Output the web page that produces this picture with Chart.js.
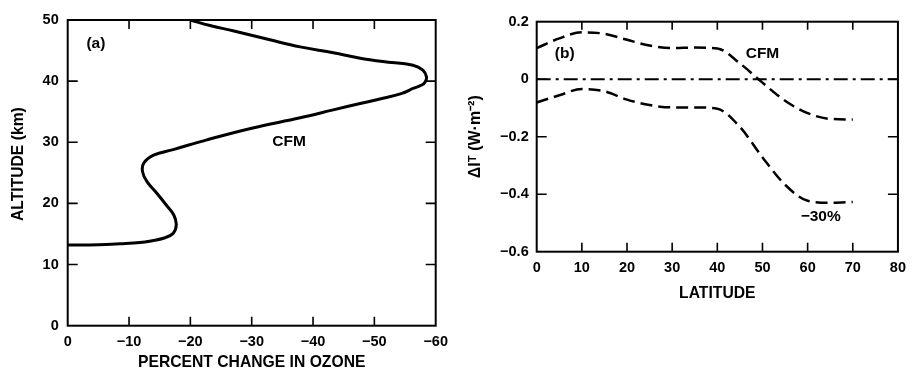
<!DOCTYPE html>
<html><head><meta charset="utf-8">
<script src="https://cdn.jsdelivr.net/npm/chart.js@4"></script>
<style>
html,body{margin:0;padding:0;background:#fff;overflow:hidden;width:914px;height:374px}
#a{position:absolute;left:0;top:0;width:460px;height:374px}
#b{position:absolute;left:460px;top:0;width:454px;height:374px}
</style></head><body>
<div id="a"><canvas id="ca"></canvas></div>
<div id="b"><canvas id="cb"></canvas></div>
<script>
// Panel (a): ozone change profile
const ozonePct = [0, -5, -8.5, -11.8, -14.0, -15.6, -17.2, -17.7, -17.3, -16.1, -14.5, -12.9, -12.2, -12.4, -14.0, -17.2, -22.7, -30.0, -37.9, -43.3, -47.5, -51.4, -54.5, -56.3, -57.8, -58.3, -58.5, -57.9, -56.3, -51.4, -47.5, -43.3, -37.9, -32.8, -27.1, -23.2, -20.0];
const altitude = [13.2, 13.25, 13.4, 13.6, 13.95, 14.3, 15.1, 16.5, 18.1, 19.7, 21.7, 23.6, 25.2, 26.6, 27.9, 28.8, 30.4, 32.3, 34.0, 35.3, 36.3, 37.2, 38.0, 38.8, 39.4, 39.9, 40.7, 41.8, 42.6, 43.2, 43.8, 44.65, 45.6, 46.8, 48.2, 49.1, 50.0];
const ozoneTicks = [0, -10, -20, -30, -40, -50, -60];
const altitudeTicks = [0, 10, 20, 30, 40, 50];

// Panel (b): flux change vs latitude
const latitude = [0, 5, 10, 15, 20, 25, 30, 35, 40, 45, 50, 55, 60, 65, 70];
const cfmFlux = [0.108, 0.142, 0.163, 0.158, 0.137, 0.117, 0.108, 0.110, 0.107, 0.055, -0.012, -0.075, -0.118, -0.138, -0.140];
const minus30Flux = [-0.081, -0.056, -0.034, -0.042, -0.071, -0.090, -0.098, -0.098, -0.103, -0.166, -0.272, -0.367, -0.423, -0.430, -0.427];
const zeroLat = [0, 80];
const zeroFlux = [0, 0];
const latitudeTicks = [0, 10, 20, 30, 40, 50, 60, 70, 80];
const fluxTicks = [0.2, 0, -0.2, -0.4, -0.6];

const FONT = "'Liberation Sans', Arial, sans-serif";
Chart.defaults.font.family = FONT;
Chart.defaults.color = '#000';

function fmt(v, dec) {
  const s = Math.abs(v).toFixed(dec);
  return (v < 0 ? '\u2212' : '') + s;
}

function pts(xs, ys) { return xs.map((x, i) => ({x: x, y: ys[i]})); }

const framePlugin = {
  id: 'frame',
  afterDatasetsDraw(chart, args, opts) {
    const {ctx, chartArea: a, scales} = chart;
    ctx.save();
    ctx.strokeStyle = '#000';
    ctx.lineWidth = 2;
    ctx.strokeRect(a.left, a.top, a.right - a.left, a.bottom - a.top);
    ctx.lineWidth = 1.6;
    const xs = opts.xTicks, ys = opts.yTicks;
    ctx.beginPath();
    xs.forEach(v => {
      const p = scales.x.getPixelForValue(v);
      if (Math.abs(p - a.left) < 2 || Math.abs(p - a.right) < 2) return;
      ctx.moveTo(p, a.top); ctx.lineTo(p, a.top + opts.lenTop);
      ctx.moveTo(p, a.bottom); ctx.lineTo(p, a.bottom - opts.lenBottom);
    });
    ys.forEach(v => {
      const p = scales.y.getPixelForValue(v);
      if (Math.abs(p - a.top) < 2 || Math.abs(p - a.bottom) < 2) return;
      ctx.moveTo(a.left, p); ctx.lineTo(a.left + opts.lenSide, p);
      ctx.moveTo(a.right, p); ctx.lineTo(a.right - opts.lenSide, p);
    });
    ctx.stroke();
    // annotations
    ctx.fillStyle = '#000';
    ctx.textAlign = 'center';
    ctx.textBaseline = 'middle';
    (opts.labels || []).forEach(l => {
      ctx.font = 'bold ' + (l.size || 15.5) + 'px ' + FONT;
      ctx.fillText(l.text, scales.x.getPixelForValue(l.x), scales.y.getPixelForValue(l.y));
    });
    ctx.restore();
  }
};

const TICKFONT = {size: 14.5, weight: 'bold'};
const TITLEFONT = {size: 15.7, weight: 'bold'};

new Chart(document.getElementById('ca'), {
  type: 'scatter',
  data: {
    datasets: [{
      data: pts(ozonePct, altitude),
      showLine: true,
      borderColor: '#000',
      borderWidth: 3,
      pointRadius: 0,
      tension: 0.4,
      fill: false
    }]
  },
  options: {
    animation: false,
    responsive: true,
    maintainAspectRatio: false,
    devicePixelRatio: 1,
    layout: {padding: {top: 20, right: 24.3, left: 0, bottom: 0}},
    plugins: {
      legend: {display: false},
      tooltip: {enabled: false},
      frame: {
        xTicks: ozoneTicks, yTicks: altitudeTicks, lenTop: 9, lenBottom: 9, lenSide: 10,
        labels: [
          {text: '(a)', x: -4.6, y: 46.1},
          {text: 'CFM', x: -36.1, y: 30.1}
        ]
      }
    },
    scales: {
      x: {
        type: 'linear', reverse: true, min: -60, max: 0,
        afterBuildTicks: s => { s.ticks = ozoneTicks.map(v => ({value: v})); },
        afterFit: s => { s.height = 48.3; },
        grid: {display: false, drawTicks: false},
        border: {display: false},
        ticks: {padding: 8, font: TICKFONT, callback: v => fmt(v, 0), maxRotation: 0},
        title: {display: true, text: 'PERCENT CHANGE IN OZONE', font: TITLEFONT, padding: {top: 0, bottom: 2}}
      },
      y: {
        type: 'linear', min: 0, max: 50,
        afterBuildTicks: s => { s.ticks = altitudeTicks.map(v => ({value: v})); },
        afterFit: s => { s.width = 67.7; },
        grid: {display: false, drawTicks: false},
        border: {display: false},
        ticks: {padding: 9, font: TICKFONT, callback: v => fmt(v, 0)},
        title: {display: true, text: '    ALTITUDE (km)', font: TITLEFONT, padding: {top: 9, bottom: 0}}
      }
    }
  },
  plugins: [framePlugin]
});

new Chart(document.getElementById('cb'), {
  type: 'scatter',
  data: {
    datasets: [
      {
        data: pts(zeroLat, zeroFlux), showLine: true, borderColor: '#000', borderWidth: 2,
        borderDash: [14, 5, 3, 5], pointRadius: 0, fill: false
      },
      {
        data: pts(latitude, cfmFlux), showLine: true, borderColor: '#000', borderWidth: 2.5,
        borderDash: [12, 6], pointRadius: 0, cubicInterpolationMode: 'monotone', fill: false
      },
      {
        data: pts(latitude, minus30Flux), showLine: true, borderColor: '#000', borderWidth: 2.5,
        borderDash: [12, 6], pointRadius: 0, cubicInterpolationMode: 'monotone', fill: false
      }
    ]
  },
  options: {
    animation: false,
    responsive: true,
    maintainAspectRatio: false,
    devicePixelRatio: 1,
    layout: {padding: {top: 21.7, right: 9.7, left: 0, bottom: 0}},
    plugins: {
      legend: {display: false},
      tooltip: {enabled: false},
      frame: {
        xTicks: latitudeTicks, yTicks: fluxTicks, lenTop: 8, lenBottom: 9, lenSide: 10,
        labels: [
          {text: '(b)', x: 6.2, y: 0.088},
          {text: 'CFM', x: 50, y: 0.088},
          {text: '\u221230%', x: 62.9, y: -0.479}
        ]
      }
    },
    scales: {
      x: {
        type: 'linear', min: 0, max: 80,
        afterBuildTicks: s => { s.ticks = latitudeTicks.map(v => ({value: v})); },
        afterFit: s => { s.height = 122.3; },
        grid: {display: false, drawTicks: false},
        border: {display: false},
        ticks: {padding: 8, font: TICKFONT, callback: v => fmt(v, 0), maxRotation: 0},
        title: {display: true, text: 'LATITUDE', font: TITLEFONT, padding: {top: 0, bottom: 71}}
      },
      y: {
        type: 'linear', min: -0.6, max: 0.2,
        afterBuildTicks: s => { s.ticks = fluxTicks.map(v => ({value: v})); },
        afterFit: s => { s.width = 76.7; },
        grid: {display: false, drawTicks: false},
        border: {display: false},
        ticks: {padding: 8, font: TICKFONT, callback: v => (Math.abs(v) < 1e-9 ? '0' : fmt(v, 1))},
        title: {display: true, text: '\u0394I\u1D40 (W\u00B7m\u207B\u00B2)', font: {size: 16, weight: 'bold'}, padding: {top: 6, bottom: 0}}
      }
    }
  },
  plugins: [framePlugin]
});
</script>
</body></html>
